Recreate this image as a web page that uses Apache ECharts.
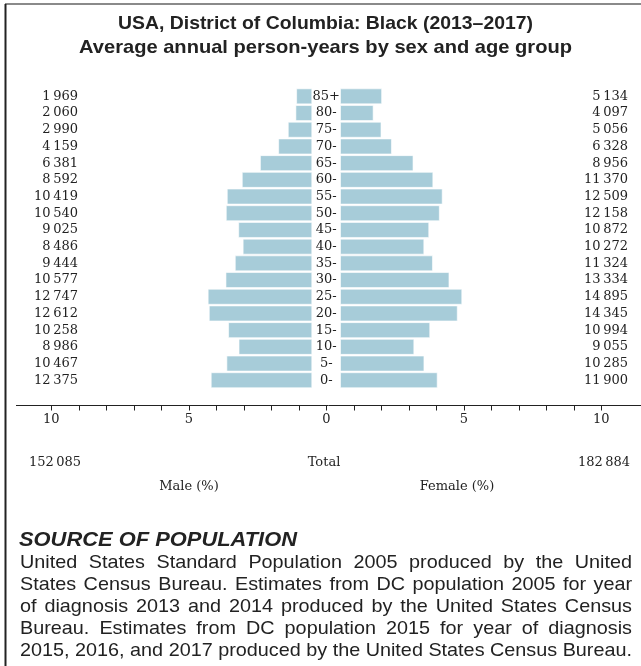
<!DOCTYPE html>
<html>
<head>
<meta charset="utf-8">
<script src="https://cdn.jsdelivr.net/npm/echarts@6/dist/echarts.min.js"></script>
<style>
html,body{margin:0;padding:0;background:#fff;}
#chart{width:641px;height:666px;}
</style>
</head>
<body>
<div id="chart"></div>
<script>
// ---- data ----
const ageGroups = ['85+','80-','75-','70-','65-','60-','55-','50-','45-','40-','35-','30-','25-','20-','15-','10-','5-','0-'];
const maleCounts = [1969,2060,2990,4159,6381,8592,10419,10540,9025,8486,9444,10577,12747,12612,10258,8986,10467,12375];
const femaleCounts = [5134,4097,5056,6328,8956,11370,12509,12158,10872,10272,11324,13334,14895,14345,10994,9055,10285,11900];
const maleTotal = 152085;
const femaleTotal = 182884;
const axisTicks = [-10,-5,0,5,10];
const titleLines = ['USA, District of Columbia: Black (2013–2017)','Average annual person-years by sex and age group'];
const sourceHeading = 'SOURCE OF POPULATION';
const sourceLines = [
  'United States Standard Population 2005 produced by the United',
  'States Census Bureau. Estimates from DC population 2005 for year',
  'of diagnosis 2013 and 2014 produced by the United States Census',
  'Bureau. Estimates from DC population 2015 for year of diagnosis',
  '2015, 2016, and 2017 produced by the United States Census Bureau.'
];

// ---- derived ----
const grandTotal = maleTotal + femaleTotal;
const malePct = maleCounts.map(v => v / grandTotal * 100);
const femalePct = femaleCounts.map(v => v / grandTotal * 100);
const fmt = n => String(n).replace(/\B(?=(\d{3})+(?!\d))/g, '\u2009');

const SERIF = '"DejaVu Serif", serif';
const barColor = '#a7ccd9';
const TOP = 88, H = 300.6;

const chart = echarts.init(document.getElementById('chart'), null, {renderer:'canvas'});

const ctx = document.createElement('canvas').getContext('2d');
const measure = (t, font) => { ctx.font = font; return ctx.measureText(t).width; };

const graphics = [];
graphics.push({type:'line', shape:{x1:5,y1:4,x2:641,y2:4}, style:{stroke:'#8a8a8a', lineWidth:2}});
graphics.push({type:'line', shape:{x1:5.5,y1:4,x2:5.5,y2:666}, style:{stroke:'#222', lineWidth:2}});
graphics.push({type:'line', shape:{x1:16,y1:405.5,x2:641,y2:405.5}, style:{stroke:'#222', lineWidth:1}});

// title (fit to widths seen in the reference)
const titleFont = 'bold 19px "Liberation Sans"';
const titleWidths = [415, 493];
titleLines.forEach((t,i)=>{
  const s = titleWidths[i] / measure(t, titleFont);
  graphics.push({type:'text', x:325.5, y:24 + i*24, scaleX:s, style:{text:t, font:titleFont, fill:'#222', textAlign:'center', textVerticalAlign:'middle'}});
});

const bottomTexts = [
  {t: fmt(maleTotal), x: 55, y: 463},
  {t: 'Total', x: 324, y: 463},
  {t: fmt(femaleTotal), x: 604, y: 463},
  {t: 'Male (%)', x: 189, y: 487},
  {t: 'Female (%)', x: 457, y: 487}
];
bottomTexts.forEach(b=>{
  graphics.push({type:'text', x:b.x, y:b.y, style:{text:b.t, font:'13px ' + SERIF, fill:'#222', textAlign:'center', textVerticalAlign:'middle'}});
});

const headFont = 'italic bold 21px "Liberation Sans"';
const headScale = 278 / measure(sourceHeading, headFont);
graphics.push({type:'text', x:19, y:540, scaleX:headScale, style:{text:sourceHeading, font:headFont, fill:'#222', textAlign:'left', textVerticalAlign:'middle'}});

// justified body text
const bodyFont = '18.5px "Liberation Sans"';
const bodyLeft = 20, bodyRight = 632, bodyW = bodyRight - bodyLeft;
const bodyScale = bodyW / measure(sourceLines[4], bodyFont);
sourceLines.forEach((line,i)=>{
  const words = line.split(' ');
  const widths = words.map(w => measure(w, bodyFont) * bodyScale);
  const sum = widths.reduce((a,b)=>a+b,0);
  const gap = (bodyW - sum) / (words.length - 1);
  let x = bodyLeft;
  words.forEach((w,j)=>{
    graphics.push({type:'text', x:x, y:563 + i*22, scaleX:bodyScale, style:{text:w, font:bodyFont, fill:'#222', textAlign:'left', textVerticalAlign:'middle'}});
    x += widths[j] + gap;
  });
});

const hiddenX = (gi, extra) => Object.assign({type:'value', gridIndex:gi, show:false, min:0, max:10}, extra||{});
const catY = (gi, data, extra) => Object.assign({
  type:'category', gridIndex:gi, data:data, inverse:true,
  axisLine:{show:false}, axisTick:{show:false}, splitLine:{show:false}
}, extra||{});
const lab = (align, margin) => ({show:true, interval:0, align:align, margin:margin, color:'#222', fontFamily:SERIF, fontSize:13});

const option = {
  animation:false,
  backgroundColor:'#fff',
  grid:[
    {left:37.3, width:275, top:TOP, height:H},
    {left:340, width:275, top:TOP, height:H},
    {left:78, width:5, top:TOP, height:H},
    {left:628, width:5, top:TOP, height:H},
    {left:51.3, width:550, top:404.5, height:1}
  ],
  xAxis:[
    hiddenX(0, {inverse:true}),
    hiddenX(1),
    hiddenX(2),
    hiddenX(3),
    {type:'value', gridIndex:4, min:-10, max:10, interval:1, position:'bottom',
     axisLine:{show:false},
     axisTick:{show:true, inside:false, length:5, lineStyle:{color:'#222', width:1}},
     splitLine:{show:false},
     axisLabel:{margin:8, color:'#222', fontFamily:SERIF, fontSize:13,
       formatter: v => axisTicks.indexOf(v) >= 0 ? String(Math.abs(v)) : ''}
    }
  ],
  yAxis:[
    catY(0, ageGroups, {position:'right', axisLabel:lab('center', 14)}),
    catY(1, ageGroups, {show:false}),
    catY(2, maleCounts.map(fmt), {position:'left', axisLabel:lab('right', 0)}),
    catY(3, femaleCounts.map(fmt), {position:'left', axisLabel:lab('right', 0)}),
    {type:'value', gridIndex:4, show:false}
  ],
  series:[
    {type:'bar', xAxisIndex:0, yAxisIndex:0, data:malePct, barCategoryGap:'4%',
     itemStyle:{color:barColor, borderColor:'rgba(255,255,255,0.6)', borderWidth:1}, silent:true},
    {type:'bar', xAxisIndex:1, yAxisIndex:1, data:femalePct, barCategoryGap:'4%',
     itemStyle:{color:barColor, borderColor:'rgba(255,255,255,0.6)', borderWidth:1}, silent:true}
  ],
  graphic:{elements:graphics}
};
chart.setOption(option);
</script>
</body>
</html>
